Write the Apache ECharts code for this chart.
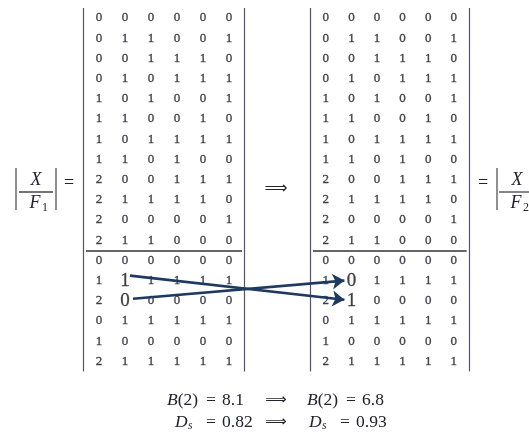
<!DOCTYPE html>
<html><head><meta charset="utf-8">
<script src="https://cdn.jsdelivr.net/npm/echarts@6/dist/echarts.min.js"></script>
<style>html,body{margin:0;padding:0;background:#fff}#c{width:529px;height:432px}</style>
</head><body><div id="c"></div>
<script>
// ---- data ----
const topRows = [
  [0,0,0,0,0,0],[0,1,1,0,0,1],[0,0,1,1,1,0],[0,1,0,1,1,1],
  [1,0,1,0,0,1],[1,1,0,0,1,0],[1,0,1,1,1,1],[1,1,0,1,0,0],
  [2,0,0,1,1,1],[2,1,1,1,1,0],[2,0,0,0,0,1],[2,1,1,0,0,0]
];
const bottomRowsF1 = [
  [0,0,0,0,0,0],[1,1,1,1,1,1],[2,0,0,0,0,0],
  [0,1,1,1,1,1],[1,0,0,0,0,0],[2,1,1,1,1,1]
];
const bottomRowsF2 = [
  [0,0,0,0,0,0],[1,0,1,1,1,1],[2,1,0,0,0,0],
  [0,1,1,1,1,1],[1,0,0,0,0,0],[2,1,1,1,1,1]
];
const swappedCells = [[13,1],[14,1]]; // [row, col]
const B2Values = ['8.1','6.8'];
const DsValues = ['0.82','0.93'];

const F1 = topRows.concat(bottomRowsF1);
const F2 = topRows.concat(bottomRowsF2);
const nRows = F1.length, nCols = F1[0].length, nTop = topRows.length;

const chart = echarts.init(document.getElementById('c'));
const serif = 'Liberation Serif';
const ink = '#222230';
const navy = '#1f3a60';

function isSwapped(r,c){ return swappedCells.some(s=>s[0]===r && s[1]===c); }
function cellData(M){
  const out=[];
  M.forEach((row,r)=>row.forEach((v,c)=>{
    const item={value:[c,r,v]};
    if(isSwapped(r,c)) item.label={fontSize:19, color:'#151515', textBorderWidth:0.3};
    out.push(item);
  }));
  return out;
}
function axisHidden(extra){ return Object.assign({type:'value',show:false,splitLine:{show:false},axisLine:{show:false},axisTick:{show:false},axisLabel:{show:false}},extra); }

const grids=[{left:86,top:7.9,width:156,height:363.6},{left:313,top:7.9,width:153.6,height:363.6}];
const series=[];
[F1,F2].forEach((M,i)=>{
  series.push({type:'scatter',xAxisIndex:i,yAxisIndex:i,symbolSize:1,silent:true,
    itemStyle:{color:'transparent'},
    label:{show:true,position:'inside',formatter:p=>String(p.value[2]),fontFamily:serif,fontSize:13,color:ink,
      textBorderColor:ink,textBorderWidth:0.35},
    data:cellData(M),z:3});
  series.push({type:'lines',coordinateSystem:'cartesian2d',xAxisIndex:i,yAxisIndex:i,clip:false,silent:true,
    lineStyle:{color:'#55556a',width:1.2,opacity:1},
    data:[
      {coords:[[-0.6,-0.5],[-0.6,nRows-0.5]]},
      {coords:[[nCols-0.4,-0.5],[nCols-0.4,nRows-0.5]]},
      {coords:[[-0.5,nTop-0.5],[nCols-0.5,nTop-0.5]],lineStyle:{color:'#333',width:1.5}}
    ]});
});

function txt(x,y,text,size,extra){
  return {type:'text',x:x,y:y,silent:true,style:Object.assign({text:text,fontFamily:serif,fontSize:size,fill:ink,align:'center',verticalAlign:'middle'},extra||{})};
}
function line(x1,y1,x2,y2,w){ return {type:'line',silent:true,shape:{x1,y1,x2,y2},style:{stroke:'#444',lineWidth:w||1.2}}; }

const BS=17.5;
const richB={i:{fontStyle:'italic',fontFamily:serif,fontSize:BS,fill:ink}};
const graphic=[
  // left |X/F1| =
  line(16,168,16,210), line(56,168,56,210), line(19,192,53,192,1.3),
  txt(36,180,'X',18,{fontStyle:'italic'}),
  txt(35,203,'F',18,{fontStyle:'italic'}), txt(45,208,'1',12),
  txt(69,183,'=',18),
  txt(276,189,'\u27F9',16,{fontFamily:'DejaVu Sans'}),
  // right = |X/F2
  txt(483,183,'=',18),
  line(497,168,497,210), line(499,192,529,192,1.3),
  txt(517,180,'X',18,{fontStyle:'italic'}),
  txt(516,203,'F',18,{fontStyle:'italic'}), txt(526,208,'2',12),
  // bottom equations
  txt(167,400,'{i|B}(2)',BS,{align:'left',rich:richB}),
  txt(211,400,'=',BS),
  txt(222,400,B2Values[0],BS,{align:'left'}),
  txt(276,400,'\u27F9',15,{fontFamily:'DejaVu Sans'}),
  txt(307,400,'{i|B}(2)',BS,{align:'left',rich:richB}),
  txt(351,400,'=',BS),
  txt(362,400,B2Values[1],BS,{align:'left'}),
  txt(175,422,'D',BS,{align:'left',fontStyle:'italic'}),
  txt(188,426,'s',11.5,{align:'left',fontStyle:'italic'}),
  txt(211,422,'=',BS),
  txt(222,422,DsValues[0],BS,{align:'left'}),
  txt(276,422,'\u27F9',15,{fontFamily:'DejaVu Sans'}),
  txt(309,422,'D',BS,{align:'left',fontStyle:'italic'}),
  txt(322,426,'s',11.5,{align:'left',fontStyle:'italic'}),
  txt(345,422,'=',BS),
  txt(356,422,DsValues[1],BS,{align:'left'})
];

const option={animation:false,backgroundColor:'#fff',
  grid:grids,
  xAxis:[axisHidden({gridIndex:0,min:-0.5,max:nCols-0.5}),axisHidden({gridIndex:1,min:-0.5,max:nCols-0.5})],
  yAxis:[axisHidden({gridIndex:0,min:-0.5,max:nRows-0.5,inverse:true}),axisHidden({gridIndex:1,min:-0.5,max:nRows-0.5,inverse:true})],
  series:series, graphic:graphic};
chart.setOption(option);

// arrows: each swapped cell in F1 points to its counterpart row in F2
const [a,b]=swappedCells;
function arrowCoords(from,to,fromOff,toOff){
  const p=chart.convertToPixel({gridIndex:0},[from[1],from[0]]);
  const q=chart.convertToPixel({gridIndex:1},[to[1],to[0]]);
  const s=chart.convertFromPixel({gridIndex:0},[p[0]+fromOff[0],p[1]+fromOff[1]]);
  const e=chart.convertFromPixel({gridIndex:0},[q[0]+toOff[0],q[1]+toOff[1]]);
  return [s,e];
}
series.push({type:'lines',coordinateSystem:'cartesian2d',xAxisIndex:0,yAxisIndex:0,clip:false,silent:true,z:5,
  symbol:['none','arrow'],symbolSize:12,
  lineStyle:{color:navy,width:2.6,opacity:1},
  data:[
    {coords:arrowCoords(a,b,[5,-5],[-7,-1])},
    {coords:arrowCoords(b,a,[8,-2],[-7,0])}
  ]});
chart.setOption({series:series});
</script></body></html>
